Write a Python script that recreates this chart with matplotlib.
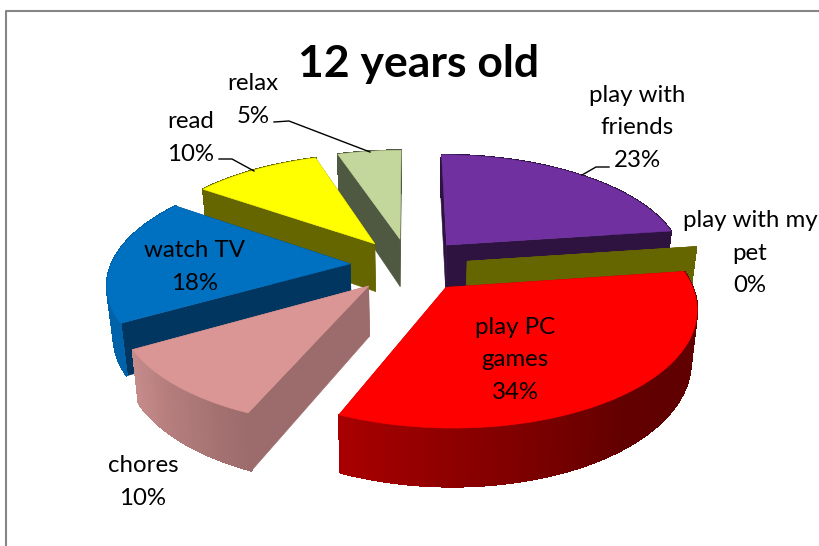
import numpy as np
import matplotlib
matplotlib.use("Agg")
import matplotlib.pyplot as plt
from matplotlib.colors import to_rgb
from matplotlib.patches import Polygon

plt.rcParams['font.family'] = ['Lato', 'DejaVu Sans']

# slices, clockwise from 12 o'clock
labels = ["play with\nfriends", "play with my\npet", "play PC\ngames", "chores", "watch TV", "read", "relax"]
values = [22.8, 0, 33.6, 10.3, 18.0, 10.2, 5.1]
percent_text = ["23%", "0%", "34%", "10%", "18%", "10%", "5%"]

top_colors = ["#7030A0", "#666600", "#FF0000", "#D99694", "#0070C0", "#FFFF00", "#C3D69B"]
side_colors = ["#2E1340", "#666600", "#A50000", "#9C6B6B", "#003660", "#666600", "#4F5840"]
rim_colors = [["#2E1340", "#2E1340"], ["#666600", "#666600"], ["#5E0000", "#620000", "#A80000"],
              ["#9C6B6B", "#C58B8A"], ["#0062A8", "#0062A8"], ["#666600", "#666600"], ["#4F5840", "#4F5840"]]

# painter's order, back to front
draw_order = [0, 1, 6, 5, 4, 3, 2]

# label centres in pixels
label_pos = [(637, 128), (750, 253), (515, 360), (143, 482), (195, 267), (191, 138), (253, 100)]

# projection of the tilted pie
cx, cy = 409, 265
radius = 239
explode = 59
persp = 0.000665
tilt = 0.462


def project(X, Y):
    s = 1 / (1 + persp * Y)
    return cx + X * s, cy - tilt * Y * s


def drop(x, y):
    # same point on the underside of the pie
    Y = (cy - y) / tilt
    return cx + 0.978 * (x - cx), y + 49 - 0.027 * Y


def mix(stops, t):
    rgb = np.array([to_rgb(c) for c in stops])
    pos = np.linspace(0, 1, len(stops))
    return [np.interp(t, pos, rgb[:, i]) for i in range(3)]


fig = plt.figure(figsize=(8.2, 5.46), dpi=100)
ax = fig.add_axes([0, 0, 1, 1])
ax.set_xlim(0, 820)
ax.set_ylim(546, 0)
ax.axis("off")

# chart frame
ax.plot([6.5, 6.5, 820], [546, 10.5, 10.5], color="#868686", lw=1.5)

edges = np.cumsum([0] + values) / sum(values) * 2 * np.pi

for i in draw_order:
    a0, a1 = edges[i], edges[i + 1]
    mid = (a0 + a1) / 2
    ox, oy = explode * np.sin(mid), explode * np.cos(mid)
    theta = np.linspace(a0, a1, max(int(np.degrees(a1 - a0)), 2))
    ax_x, ax_y = project(ox, oy)
    arc_x, arc_y = project(ox + radius * np.sin(theta), oy + radius * np.cos(theta))
    low_x, low_y = drop(arc_x, arc_y)
    apex_lx, apex_ly = drop(ax_x, ax_y)

    # flat cut faces
    for k in (0, -1):
        pts = [(ax_x, ax_y), (arc_x[k], arc_y[k]), (low_x[k], low_y[k]), (apex_lx, apex_ly)]
        ax.add_patch(Polygon(pts, closed=True, fc=side_colors[i], ec=side_colors[i], lw=0.4))

    # outer curved face, no antialiasing so the strips don't show seams
    for k in range(len(theta) - 1):
        pts = [(arc_x[k], arc_y[k]), (arc_x[k + 1], arc_y[k + 1]), (low_x[k + 1], low_y[k + 1]), (low_x[k], low_y[k])]
        c = mix(rim_colors[i], k / max(len(theta) - 2, 1))
        ax.add_patch(Polygon(pts, closed=True, fc=c, ec=c, lw=0.8, antialiased=False))

    # top
    pts = [(ax_x, ax_y)] + list(zip(arc_x, arc_y))
    ax.add_patch(Polygon(pts, closed=True, fc=top_colors[i], ec=top_colors[i], lw=0.4))

# leader lines
ax.plot([274, 289, 370], [122, 121, 152], color="black", lw=1)
ax.plot([219, 232, 254], [159, 159, 171], color="black", lw=1)
ax.plot([582, 596, 609], [175, 167, 167], color="black", lw=1)

for name, pct, (x, y) in zip(labels, percent_text, label_pos):
    ax.text(x, y, name + "\n" + pct, ha="center", va="center", fontsize=17.3, linespacing=1.7, color="black")

ax.text(419, 64, "12 years old", ha="center", va="center", fontsize=32, fontweight="bold", color="black")

fig.savefig("out.png", dpi=100)
